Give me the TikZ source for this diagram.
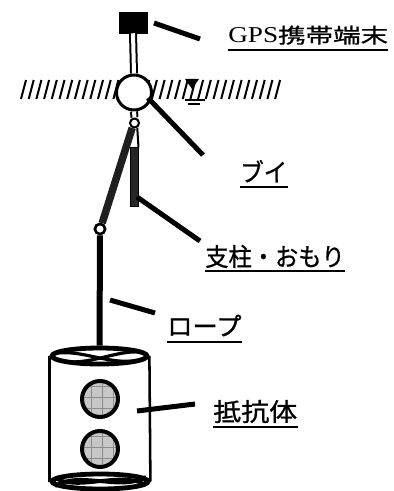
\documentclass[tikz,border=0pt]{standalone}
\usepackage{fontspec}
\usepackage{graphicx}
\usetikzlibrary{shapes.geometric}
\newfontfamily\jpfont[FakeBold=0.8]{Noto Sans CJK JP}
\newfontfamily\latinfont{Liberation Serif}

\tikzset{
  leader/.style={line width=3.75pt},
  uline/.style={line width=1.5pt},
  hatchmark/.style={line width=1.5pt},
  mast/.style={line width=1.5pt, double=white, double distance=3pt},
  ring/.style={circle, draw, fill=white, inner sep=0pt},
  twist/.style={line width=2.4pt},
  gridline/.style={black!45, line width=0.6pt},
  resist/.style={circle, draw, line width=3pt, fill=black!22, inner sep=0pt,
    minimum size=27pt,
    path picture={
      \foreach \d in {-9,2,13}{
        \draw[gridline] ([xshift=\d*0.75pt]path picture bounding box.north) -- ([xshift=\d*0.75pt]path picture bounding box.south);
        \draw[gridline] ([yshift=\d*0.75pt]path picture bounding box.west) -- ([yshift=\d*0.75pt]path picture bounding box.east);
      }}},
  tag/.style={anchor=base west, inner sep=0pt, font=\jpfont\fontsize{18.75pt}{18.75pt}\selectfont}
}

\begin{document}
\begin{tikzpicture}[x=0.75pt, y=-0.75pt]
\useasboundingbox (0,0) rectangle (393,491);

% water surface hatching
\foreach \i in {0,...,33}{
  \draw[hatchmark] ({21+7.7*\i},99) -- ({26+7.7*\i},80);
}
% water level mark
\fill (185,79) -- (199,79) -- (192,89) -- cycle;
\draw[line width=1.2pt] (185,100) -- (205,100);
\draw[line width=1.5pt] (188,104) -- (200,104);

% float, antenna and joints
\node[fill=black, draw, inner sep=0pt, minimum width=21pt, minimum height=15.75pt] (gps) at (133,22.5) {};
\node[ring, line width=2.25pt, minimum size=26.25pt] (buoy) at (134,92.5) {};
\node[ring, line width=1.5pt, minimum size=6.75pt] (shackle) at (134.5,123) {};
\node[ring, line width=1.9pt, minimum size=7.5pt] (joint) at (100,229) {};
\node[rectangle, draw, fill=black!85, line width=0.75pt, inner sep=0pt,
      minimum width=6pt, minimum height=44.25pt] (weight) at (134,177.5) {};

\draw[mast] (gps.south) -- (buoy.north);
\draw[mast] (buoy.south) -- (shackle.north);
\draw[line width=1.5pt] (shackle.-60) -- (weight.north east);
\draw[line width=5.6pt, black!88] (shackle.-115) -- (joint.70);
\node[ring, line width=1.9pt, minimum size=7.5pt] at (joint) {};

% resistance body (cylindrical net)
\node[ellipse, draw, line width=3.6pt, inner sep=0pt, minimum width=71.25pt, minimum height=12pt] (rimtop) at (99.5,356) {};
\node[ellipse, draw, line width=3.6pt, inner sep=0pt, minimum width=72pt, minimum height=11.25pt] (rimbot) at (100,481.5) {};
\draw[line width=1.9pt] (rimtop.west) -- (rimbot.west);
\draw[line width=1.9pt] (rimtop.east) -- (rimbot.east);
\draw[twist] (57,353) .. controls (85,350) and (110,366) .. (142,360);
\draw[twist] (60,361) .. controls (90,366) and (115,350) .. (141,352);
\draw[line width=2.8pt] (55,478) .. controls (80,492) and (120,470) .. (146,485);
\draw[line width=2.8pt] (55,486) .. controls (80,470) and (120,492) .. (146,477);

% rope
\draw[line width=4.5pt] (joint.south) -- (rimtop.north);

\node[resist] (res1) at (100,399) {};
\node[resist] (res2) at (100,449) {};

% labels
\node[tag] (lgps) at (228,43) {\scalebox{1.2}[1]{\latinfont\fontsize{17pt}{17pt}\selectfont GPS}\scalebox{1.33}[1]{\fontsize{15.5pt}{15.5pt}\selectfont 携帯端末}};
\node[tag] (lbuoy) at (240,181.5) {\scalebox{0.94}[1]{ブイ}};
\node[tag] (lpole) at (205,266) {\scalebox{0.93}[1]{支柱・おもり}};
\node[tag] (lrope) at (167,335.5) {\scalebox{1.01}[1]{ロープ}};
\node[tag] (lbody) at (213,421) {\scalebox{1.12}[1]{抵抗体}};

\draw[uline] ([yshift=-5.25pt]lgps.base west) -- ([yshift=-5.25pt]lgps.base east);
\draw[uline] ([yshift=-4.1pt]lbuoy.base west) -- ([yshift=-4.1pt]lbuoy.base east);
\draw[uline] ([yshift=-3.75pt]lpole.base west) -- ([yshift=-3.75pt]lpole.base east);
\draw[uline] ([yshift=-4.9pt]lrope.base west) -- ([yshift=-4.9pt]lrope.base east);
\draw[uline] ([yshift=-4.5pt]lbody.base west) -- ([yshift=-4.5pt]lbody.base east);

% leader lines
\coordinate (gpsA) at (154,23);   \coordinate (gpsB) at (200,39);
\coordinate (buoyA) at (148,98);  \coordinate (buoyB) at (203,155);
\coordinate (poleA) at (137,197); \coordinate (poleB) at (200,241);
\coordinate (ropeA) at (110,300); \coordinate (ropeB) at (155,313);
\coordinate (bodyA) at (137,411); \coordinate (bodyB) at (195,404);
\draw[leader] (gpsA) -- (gpsB);
\draw[leader] (buoyA) -- (buoyB);
\draw[leader] (poleA) -- (poleB);
\draw[leader] (ropeA) -- (ropeB);
\draw[leader] (bodyA) -- (bodyB);
\end{tikzpicture}
\end{document}
